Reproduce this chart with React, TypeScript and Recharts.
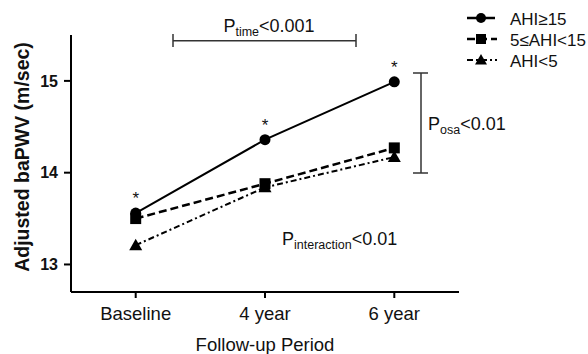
import { LineChart, Line, XAxis, YAxis, LabelList, Customized } from "recharts";

const FONT = "'Liberation Sans', Arial, sans-serif";
const INK = "#111";

const periods = ["Baseline", "4 year", "6 year"];
const ahiSevere = [13.56, 14.36, 14.99];
const ahiMild = [13.5, 13.88, 14.27];
const ahiNormal = [13.21, 13.84, 14.17];
const severeMarks = ["*", "*", "*"];
const yTicks = [13, 14, 15];

const seriesNames = ["AHI≥15", "5≤AHI<15", "AHI<5"];

const data = periods.map((p, i) => ({
  period: p,
  severe: ahiSevere[i],
  mild: ahiMild[i],
  normal: ahiNormal[i],
  mark: severeMarks[i],
}));

const DASH_MILD = "8 4";
const DASH_NORMAL = "6 3 2 3";

const CircleDot = (p: any) => (
  <circle key={`c-${p.index}`} cx={p.cx} cy={p.cy} r={5.5} fill="#000" />
);
const SquareDot = (p: any) => (
  <rect key={`s-${p.index}`} x={p.cx - 5.5} y={p.cy - 5.5} width={11} height={11} fill="#000" />
);
const TriangleDot = (p: any) => (
  <polygon
    key={`t-${p.index}`}
    points={`${p.cx},${p.cy - 6.5} ${p.cx - 6.5},${p.cy + 5} ${p.cx + 6.5},${p.cy + 5}`}
    fill="#000"
  />
);

// P-value text with a subscript
function PText({ x, y, sub, rest, anchor = "start" }: any) {
  return (
    <text x={x} y={y} fontSize={18} textAnchor={anchor}>
      P<tspan fontSize={12.5} dy={4}>{sub}</tspan>
      <tspan dy={-4}>{rest}</tspan>
    </text>
  );
}

function Annotations() {
  const br = { stroke: "#333", strokeWidth: 1.5 };
  return (
    <g fontFamily={FONT} fill={INK}>
      {/* time bracket */}
      <line x1={173} y1={40.7} x2={356} y2={40.7} {...br} />
      <line x1={173} y1={34} x2={173} y2={47} {...br} />
      <line x1={356} y1={34} x2={356} y2={47} {...br} />
      <PText x={269} y={32} sub="time" rest="<0.001" anchor="middle" />

      {/* osa bracket */}
      <line x1={421} y1={73} x2={421} y2={173} {...br} />
      <line x1={413} y1={73} x2={428} y2={73} {...br} />
      <line x1={413} y1={173} x2={428} y2={173} {...br} />
      <PText x={428} y={129.5} sub="osa" rest="<0.01" />

      <PText x={282} y={245} sub="interaction" rest="<0.01" />

      {/* legend */}
      <line x1={467} y1={18} x2={495} y2={18} stroke="#000" strokeWidth={2.5} />
      <circle cx={481} cy={18} r={5} fill="#000" />
      <line x1={467} y1={39} x2={497} y2={39} stroke="#000" strokeWidth={2.5} strokeDasharray={DASH_MILD} />
      <rect x={476} y={34} width={10} height={10} fill="#000" />
      <line x1={467} y1={60} x2={497} y2={60} stroke="#000" strokeWidth={2} strokeDasharray={DASH_NORMAL} />
      <polygon points="481,54 475,64.5 487,64.5" fill="#000" />
      <text x={510} y={25} fontSize={17}>{seriesNames[0]}</text>
      <text x={510} y={46} fontSize={17}>{seriesNames[1]}</text>
      <text x={510} y={67} fontSize={17}>{seriesNames[2]}</text>

      {/* axis titles */}
      <text
        x={29}
        y={157}
        fontSize={19.5}
        fontWeight="bold"
        textAnchor="middle"
        transform="rotate(-90 29 157)"
      >
        Adjusted baPWV (m/sec)
      </text>
      <text x={265} y={351} fontSize={18.5} textAnchor="middle">
        Follow-up Period
      </text>
    </g>
  );
}

export default function App() {
  return (
    <div style={{ position: "absolute", left: 0, top: 0, width: 588, height: 354, background: "#fff" }}>
      <LineChart
        width={588}
        height={354}
        data={data}
        margin={{ top: 35, right: 129, bottom: 0, left: 0 }}
      >
        <XAxis
          dataKey="period"
          height={62}
          padding={{ left: 64.7, right: 64.7 }}
          tickSize={6}
          tickMargin={9}
          axisLine={{ stroke: "#000", strokeWidth: 2 }}
          tickLine={{ stroke: "#000", strokeWidth: 2 }}
          tick={{ fill: INK, fontSize: 18.5, fontFamily: FONT }}
        />
        <YAxis
          type="number"
          domain={[12.7, 15.5]}
          ticks={yTicks}
          width={71}
          tickSize={7}
          tickMargin={6}
          axisLine={{ stroke: "#000", strokeWidth: 2 }}
          tickLine={{ stroke: "#000", strokeWidth: 2 }}
          tick={{ fill: INK, fontSize: 16, fontWeight: "bold", fontFamily: FONT }}
        />
        <Line
          dataKey="severe"
          stroke="#000"
          strokeWidth={2}
          dot={CircleDot}
          activeDot={false}
          isAnimationActive={false}
        >
          <LabelList dataKey="mark" position="top" offset={9} fill={INK} fontSize={17} fontFamily={FONT} />
        </Line>
        <Line
          dataKey="mild"
          stroke="#000"
          strokeWidth={2.5}
          strokeDasharray={DASH_MILD}
          dot={SquareDot}
          activeDot={false}
          isAnimationActive={false}
        />
        <Line
          dataKey="normal"
          stroke="#000"
          strokeWidth={2}
          strokeDasharray={DASH_NORMAL}
          dot={TriangleDot}
          activeDot={false}
          isAnimationActive={false}
        />
        <Customized component={<Annotations />} />
      </LineChart>
    </div>
  );
}
